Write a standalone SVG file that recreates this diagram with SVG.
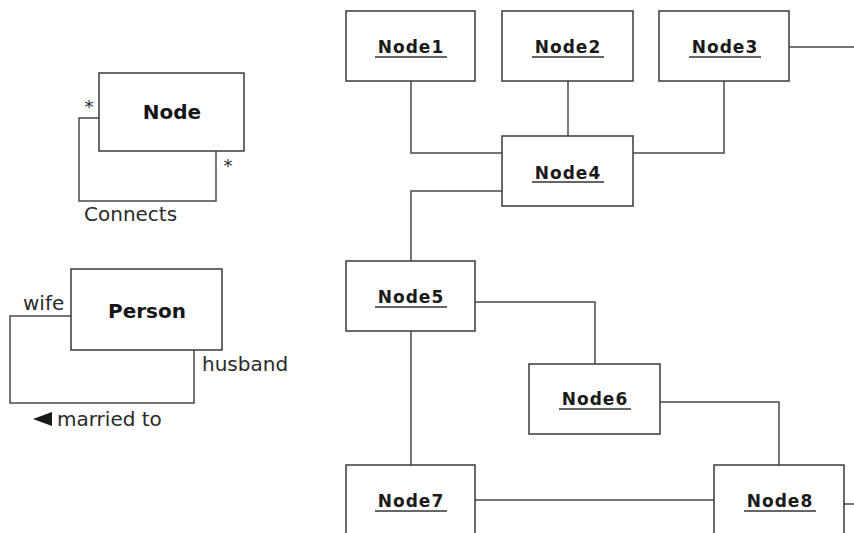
<svg xmlns="http://www.w3.org/2000/svg" width="854" height="533" viewBox="0 0 854 533">
  <style>
    .box { fill: #ffffff; stroke: #3a3a3a; stroke-width: 1.5; }
    .wire { fill: none; stroke: #4a4a4a; stroke-width: 1.5; }
    .inst { font-family: "DejaVu Sans", "Liberation Sans", sans-serif; font-weight: bold; font-size: 17px; letter-spacing: 1px; fill: #1a1a1a; text-anchor: middle; }
    .uline { stroke: #333333; stroke-width: 1.3; }
    .cls { font-family: "DejaVu Sans", "Liberation Sans", sans-serif; font-weight: bold; font-size: 20px; fill: #151515; text-anchor: middle; }
    .lbl { font-family: "DejaVu Sans", "Liberation Sans", sans-serif; font-size: 20px; fill: #2a2a2a; }
    .mult { font-family: "DejaVu Sans", "Liberation Sans", sans-serif; font-size: 18px; fill: #2a2a2a; text-anchor: middle; }
  </style>

  <!-- connectors -->
  <g id="connectors">
    <!-- Node self-association -->
    <polyline class="wire" points="99,118 79,118 79,201 216,201 216,151"/>
    <!-- Person self-association -->
    <polyline class="wire" points="71,316 10,316 10,403 194,403 194,350"/>
    <!-- object links -->
    <polyline class="wire" points="411,81 411,153 502,153"/>
    <line class="wire" x1="568" y1="81" x2="568" y2="136"/>
    <polyline class="wire" points="724,81 724,153 633,153"/>
    <line class="wire" x1="789" y1="47" x2="854" y2="47"/>
    <polyline class="wire" points="502,191 411,191 411,261"/>
    <polyline class="wire" points="475,302 595,302 595,364"/>
    <polyline class="wire" points="660,402 779,402 779,465"/>
    <line class="wire" x1="411" y1="331" x2="411" y2="465"/>
    <line class="wire" x1="475" y1="500" x2="714" y2="500"/>
    <line class="wire" x1="844" y1="504" x2="854" y2="504"/>
  </g>

  <!-- class Node -->
  <g id="class-node">
    <rect class="box" x="99" y="73" width="145" height="78"/>
    <text class="cls" x="172" y="119">Node</text>
    <text class="mult" x="89" y="113">*</text>
    <text class="mult" x="228" y="172">*</text>
    <text class="lbl" x="84" y="221">Connects</text>
  </g>

  <!-- class Person -->
  <g id="class-person">
    <rect class="box" x="71" y="269" width="151" height="81"/>
    <text class="cls" x="147" y="318">Person</text>
    <text class="lbl" x="23" y="310">wife</text>
    <text class="lbl" x="202" y="371">husband</text>
    <polygon points="33,419 52,412 52,426" fill="#1a1a1a"/>
    <text class="lbl" x="57" y="426">married to</text>
  </g>

  <!-- object nodes -->
  <g id="node1">
    <rect class="box" x="346" y="11" width="129" height="70"/>
    <text class="inst" x="411" y="53">Node1</text>
    <line class="uline" x1="375" y1="57" x2="447" y2="57"/>
  </g>
  <g id="node2">
    <rect class="box" x="502" y="11" width="131" height="70"/>
    <text class="inst" x="568" y="53">Node2</text>
    <line class="uline" x1="532" y1="57" x2="604" y2="57"/>
  </g>
  <g id="node3">
    <rect class="box" x="659" y="11" width="130" height="70"/>
    <text class="inst" x="725" y="53">Node3</text>
    <line class="uline" x1="689" y1="57" x2="761" y2="57"/>
  </g>
  <g id="node4">
    <rect class="box" x="502" y="136" width="131" height="70"/>
    <text class="inst" x="568" y="179">Node4</text>
    <line class="uline" x1="532" y1="182" x2="604" y2="182"/>
  </g>
  <g id="node5">
    <rect class="box" x="346" y="261" width="129" height="70"/>
    <text class="inst" x="411" y="303">Node5</text>
    <line class="uline" x1="375" y1="307" x2="447" y2="307"/>
  </g>
  <g id="node6">
    <rect class="box" x="529" y="364" width="131" height="70"/>
    <text class="inst" x="595" y="405">Node6</text>
    <line class="uline" x1="559" y1="409" x2="631" y2="409"/>
  </g>
  <g id="node7">
    <rect class="box" x="346" y="465" width="129" height="80"/>
    <text class="inst" x="411" y="507">Node7</text>
    <line class="uline" x1="375" y1="511" x2="447" y2="511"/>
  </g>
  <g id="node8">
    <rect class="box" x="714" y="465" width="130" height="80"/>
    <text class="inst" x="780" y="507">Node8</text>
    <line class="uline" x1="744" y1="511" x2="816" y2="511"/>
  </g>
</svg>
